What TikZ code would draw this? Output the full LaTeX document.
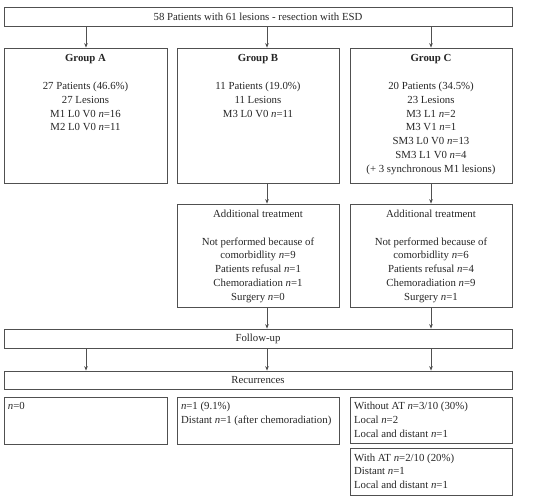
\documentclass[tikz,border=0pt]{standalone}
\usepackage{fontspec}
\setmainfont{Liberation Serif}
\usetikzlibrary{arrows.meta,calc}
\definecolor{txtc}{HTML}{262626}
\definecolor{linec}{HTML}{505050}
\newcommand{\cbox}[4]{\parbox[c][#2pt][t]{#1pt}{\centering\rule{0pt}{#3pt}#4\par}}
\newcommand{\lbox}[4]{\parbox[c][#2pt][t]{#1pt}{\raggedright\leftskip=4pt\rule{0pt}{#3pt}#4\par}}
\newcommand{\nn}{\textit{n}}
\begin{document}
\begin{tikzpicture}[x=1pt,y=-1pt,
  box/.style={draw=linec,line width=0.75pt,rectangle,inner sep=0pt,text=txtc,
    font=\fontsize{10.8pt}{13.8pt}\selectfont},
  conn/.style={draw=linec,line width=0.75pt,-{Stealth[length=4.5pt,width=3.6pt]}}]
\useasboundingbox (0,0) rectangle (546,502);
% top
\node[box,minimum width=508pt,minimum height=19pt] (top) at (258,16.5) {58 Patients with 61 lesions - resection with ESD};
% groups
\node[box] (gA) at (85.5,115.5) {\cbox{163}{135}{14}{\textbf{Group A}\\[13.8pt]27 Patients (46.6\%)\\27 Lesions\\M1 L0 V0 \nn=16\\M2 L0 V0 \nn=11}};
\node[box] (gB) at (258,115.5) {\cbox{162}{135}{14}{\textbf{Group B}\\[13.8pt]11 Patients (19.0\%)\\11 Lesions\\M3 L0 V0 \nn=11}};
\node[box] (gC) at (431,115.5) {\cbox{162}{135}{14}{\textbf{Group C}\\[13.8pt]20 Patients (34.5\%)\\23 Lesions\\M3 L1 \nn=2\\M3 V1 \nn=1\\SM3 L0 V0 \nn=13\\SM3 L1 V0 \nn=4\\(+ 3 synchronous M1 lesions)}};
% additional treatment
\node[box] (atB) at (258,255.5) {\cbox{162}{103}{13.5}{Additional treatment\\[13.8pt]Not performed because of\\comorbidlity \nn=9\\Patients refusal \nn=1\\Chemoradiation \nn=1\\Surgery \nn=0}};
\node[box] (atC) at (431,255.5) {\cbox{162}{103}{13.5}{Additional treatment\\[13.8pt]Not performed because of\\comorbidlity \nn=6\\Patients refusal \nn=4\\Chemoradiation \nn=9\\Surgery \nn=1}};
% follow-up, recurrences
\node[box,minimum width=508pt,minimum height=19pt] (fu) at (258,338.5) {Follow-up};
\node[box,minimum width=508pt,minimum height=18pt] (rec) at (258,380) {Recurrences};
% results
\node[box] (rA) at (85.5,420.5) {\lbox{163}{47}{12.5}{\nn=0}};
\node[box] (rB) at (258,420.5) {\lbox{162}{47}{12.5}{\nn=1 (9.1\%)\\Distant \nn=1 (after chemoradiation)}};
\node[box] (rC1) at (431,420) {\lbox{162}{46}{12.5}{Without AT \nn=3/10 (30\%)\\Local \nn=2\\Local and distant \nn=1}};
\node[box] (rC2) at (431,471.5) {\lbox{162}{47}{13}{With AT \nn=2/10 (20\%)\\Distant \nn=1\\Local and distant \nn=1}};
% connector x positions
\coordinate (xA) at (86,0);
\coordinate (xB) at (267,0);
\coordinate (xC) at (431,0);
\draw[conn] (xA |- top.south) -- (xA |- gA.north);
\draw[conn] (xB |- top.south) -- (xB |- gB.north);
\draw[conn] (xC |- top.south) -- (xC |- gC.north);
\draw[conn] (xB |- gB.south) -- (xB |- atB.north);
\draw[conn] (xC |- gC.south) -- (xC |- atC.north);
\draw[conn] (xB |- atB.south) -- (xB |- fu.north);
\draw[conn] (xC |- atC.south) -- (xC |- fu.north);
\draw[conn] (xA |- fu.south) -- (xA |- rec.north);
\draw[conn] (xB |- fu.south) -- (xB |- rec.north);
\draw[conn] (xC |- fu.south) -- (xC |- rec.north);
\end{tikzpicture}
\end{document}
